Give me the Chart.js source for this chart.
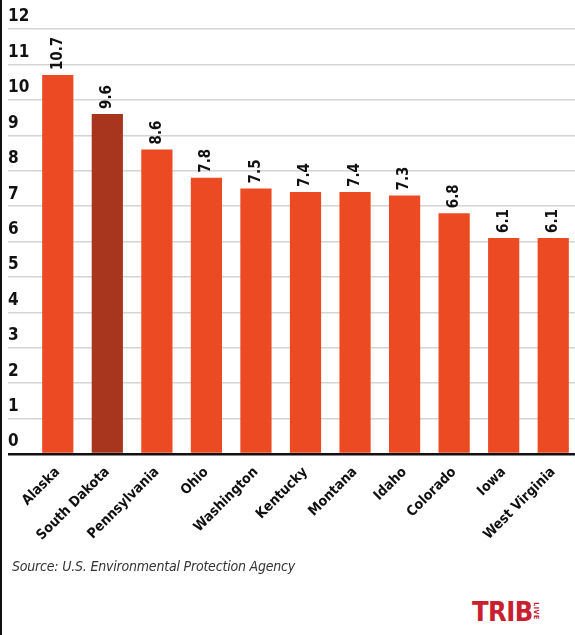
<!DOCTYPE html>
<html>
<head>
<meta charset="utf-8">
<script src="https://cdn.jsdelivr.net/npm/chart.js@4"></script>
<style>
  html, body { margin: 0; padding: 0; background: #fff; overflow: hidden; }
  #quadro { position: relative; width: 575px; height: 635px; border-left: 2px solid #111; box-sizing: border-box; overflow: hidden; }
  #grafico { position: absolute; left: 0; top: 0; }
  #fonte { position: absolute; left: 10px; top: 558px; font: italic 14px "Liberation Sans Narrow", "DejaVu Sans Condensed", sans-serif; color: #333; letter-spacing: -0.2px; }
  #logo { position: absolute; left: 470px; top: 596px; color: #c8202f; font: bold 27px "Liberation Sans Narrow", "DejaVu Sans Condensed", sans-serif; letter-spacing: -0.5px; }
  #logo span { display: inline-block; font-size: 7px; transform: rotate(90deg); position: relative; top: -8px; left: -6px; letter-spacing: 0.5px; }
</style>
</head>
<body>
<div id="quadro">
  <canvas id="grafico" width="576" height="560"></canvas>
  <div id="fonte">Source: U.S. Environmental Protection Agency</div>
  <div id="logo">TRIB<span>LIVE</span></div>
</div>
<script>
// dados do gráfico
const estados = ["Alaska", "South Dakota", "Pennsylvania", "Ohio", "Washington", "Kentucky", "Montana", "Idaho", "Colorado", "Iowa", "West Virginia"];
const valores = [10.7, 9.6, 8.6, 7.8, 7.5, 7.4, 7.4, 7.3, 6.8, 6.1, 6.1];
const destaque = "South Dakota";

const cores = { barra: "#ec4a22", destaque: "#a8361f", grade: "#d4d4d4" };
const fonte = "'Liberation Sans Narrow', 'DejaVu Sans Condensed', sans-serif";

// rótulos verticais acima das barras
const rotulos = {
    id: "rotulos",
    afterDatasetsDraw(chart) {
        const ctx = chart.ctx;
        const meta = chart.getDatasetMeta(0);
        ctx.save();
        ctx.fillStyle = "#111";
        ctx.font = "bold 15px " + fonte;
        ctx.textAlign = "left";
        ctx.textBaseline = "middle";
        meta.data.forEach((barra, i) => {
            ctx.save();
            ctx.translate(barra.x, barra.y - 5);
            ctx.rotate(-Math.PI / 2);
            ctx.fillText(valores[i].toFixed(1), 0, 0);
            ctx.restore();
        });
        ctx.restore();
    }
};

new Chart(document.getElementById("grafico"), {
    type: "bar",
    data: {
        labels: estados,
        datasets: [{
            data: valores,
            backgroundColor: estados.map(e => e === destaque ? cores.destaque : cores.barra),
            categoryPercentage: 1,
            barPercentage: 0.63
        }]
    },
    options: {
        responsive: false,
        animation: false,
        layout: { padding: { top: 29, left: 6, right: 0, bottom: 0 } },
        plugins: { legend: { display: false }, tooltip: { enabled: false } },
        scales: {
            x: {
                grid: { display: false },
                border: { display: false },
                ticks: {
                    color: "#111",
                    autoSkip: false,
                    font: { family: fonte, size: 14, weight: "bold" },
                    minRotation: 45,
                    maxRotation: 45,
                    padding: 2
                },
                afterFit(escala) { escala.height = 106; }
            },
            y: {
                min: 0,
                max: 12,
                border: { display: false },
                grid: {
                    color: c => c.tick && c.tick.value === 0 ? "#111" : cores.grade,
                    lineWidth: c => c.tick && c.tick.value === 0 ? 2.5 : 1.5,
                    tickLength: 25
                },
                ticks: {
                    stepSize: 1,
                    color: "#111",
                    crossAlign: "far",
                    labelOffset: -12,
                    font: { family: fonte, size: 17, weight: "bold" }
                },
                afterFit(escala) { escala.width = 25; }
            }
        }
    },
    plugins: [rotulos]
});
</script>
</body>
</html>
